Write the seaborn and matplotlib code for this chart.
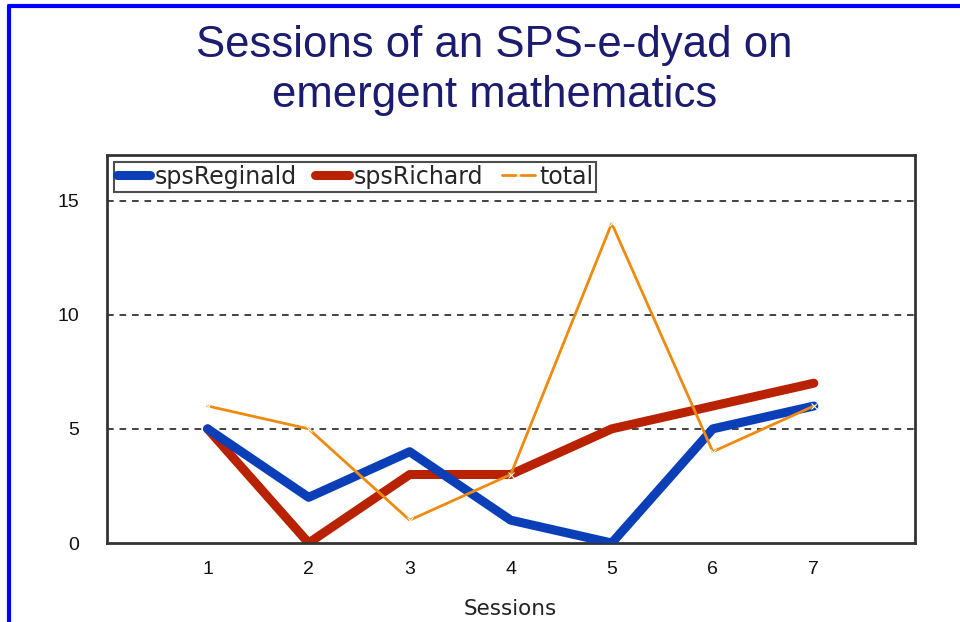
import matplotlib
matplotlib.use("Agg")
import matplotlib.pyplot as plt
import seaborn as sns
import pandas as pd
from matplotlib.lines import Line2D

sessions = [1, 2, 3, 4, 5, 6, 7]
sps_reginald = [5, 2, 4, 1, 0, 5, 6]
sps_richard = [5, 0, 3, 3, 5, 6, 7]
total = [6, 5, 1, 3, 14, 4, 6]

sns.set_style("white")
plt.rcParams['font.family'] = ['Liberation Sans', 'DejaVu Sans']

fig = plt.figure(figsize=(9.6, 6.22), dpi=100)
ax = fig.add_axes([0.111, 0.127, 0.842, 0.624])

df = pd.DataFrame({"Sessions": sessions, "spsReginald": sps_reginald,
                   "spsRichard": sps_richard, "total": total})

sns.lineplot(data=df, x="Sessions", y="spsReginald", ax=ax, color="#0a3fb8",
             linewidth=6.5, label="spsReginald", solid_capstyle="round", zorder=3)
sns.lineplot(data=df, x="Sessions", y="spsRichard", ax=ax, color="#b82200",
             linewidth=6.5, label="spsRichard", solid_capstyle="round", zorder=2)
sns.lineplot(data=df, x="Sessions", y="total", ax=ax, color="#ee8a10",
             linewidth=2, label="total", marker="x", markersize=4, zorder=4)

ax.set_xlim(0, 8)
ax.set_ylim(0, 17)
ax.set_xticks(sessions)
ax.set_yticks([0, 5, 10, 15])
for y in [5, 10, 15]:
    ax.axhline(y, color="#222222", linestyle=(0, (4, 3.5)), linewidth=1.2, zorder=1)
ax.tick_params(axis="both", labelsize=14, colors="#111111", length=0)
ax.tick_params(axis="x", pad=13)
ax.tick_params(axis="y", pad=20)
ax.set_xlabel("Sessions", fontsize=15.5, color="#222222", labelpad=15,
              family=["DejaVu Sans"])
ax.set_ylabel("")
for s in ax.spines.values():
    s.set_color("#333333")
    s.set_linewidth(2)

leg = ax.legend(loc="upper left", ncol=3, frameon=True, fancybox=False,
                prop={"family": "DejaVu Sans", "size": 17},
                handlelength=1.4, handletextpad=0.2, columnspacing=0.8,
                borderpad=0.12, bbox_to_anchor=(0.009, 0.982), borderaxespad=0)
leg.get_frame().set_edgecolor("#222222")
leg.get_frame().set_linewidth(1.5)

fig.text(0.515, 0.927, "Sessions of an SPS-e-dyad on", fontsize=31.5,
         color="#1b1b70", ha="center", va="center")
fig.text(0.515, 0.847, "emergent mathematics", fontsize=31.5,
         color="#1b1b70", ha="center", va="center")

# blue frame along top and left edge
fig.add_artist(Line2D([0.009, 1.0], [0.99, 0.99], color="#0000ff", linewidth=3,
                      transform=fig.transFigure))
fig.add_artist(Line2D([0.009, 0.009], [0.0, 0.99], color="#0000ff", linewidth=3,
                      transform=fig.transFigure))

fig.savefig("out.png", dpi=100)
